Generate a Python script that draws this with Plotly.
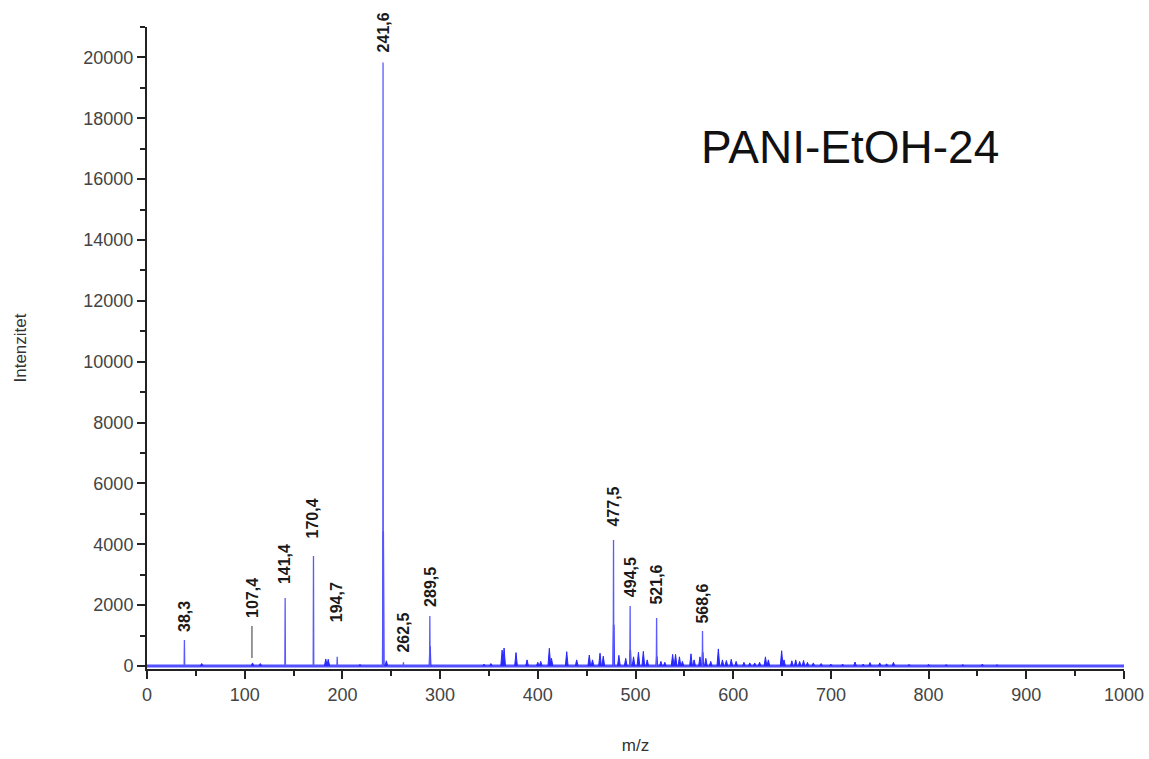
import plotly.graph_objects as go

# ---- data ----
label_mz = [38.3, 107.4, 141.4, 170.4, 194.7, 241.6, 262.5, 289.5, 477.5, 494.5, 521.6, 568.6]
label_text = ["38,3", "107,4", "141,4", "170,4", "194,7", "241,6", "262,5", "289,5",
              "477,5", "494,5", "521,6", "568,6"]
label_base = [1050, 1510, 2630, 4140, 1380, 20100, 390, 1870, 4500, 2200, 1940, 1310]

major_mz = [38.3, 141.4, 170.4, 194.7, 241.6, 262.5, 289.5, 477.5, 494.5, 521.6, 568.6]
major_int = [850, 2230, 3610, 300, 19830, 120, 1640, 4140, 1970, 1580, 1150]

inner_mz = [241.8, 289.7, 477.7, 494.7, 521.8, 568.8]
inner_int = [4430, 650, 1350, 520, 320, 450]

minor_mz = [56, 108, 116, 183, 185.5, 218, 245, 345, 352, 363.5, 365.5, 377.7, 389, 400, 403,
            411.8, 414, 429.6, 439.8, 452.7, 456, 463.7, 467, 483, 490, 498, 503, 508, 512,
            526, 530, 538, 541, 545, 548, 556.8, 560, 566, 572, 577, 584.8, 589, 593, 598,
            603, 611, 617, 622, 627, 633, 636, 649.6, 652, 660, 664, 668, 672, 676, 682,
            690, 700, 712, 724.7, 733, 740, 750, 757, 764, 780, 800, 818, 835, 855, 870]
minor_int = [80, 100, 80, 230, 220, 50, 170, 60, 80, 520, 590, 440, 200, 120, 150,
             580, 250, 470, 200, 360, 200, 420, 320, 350, 250, 300, 450, 480, 200,
             150, 120, 380, 380, 300, 150, 400, 200, 300, 250, 150, 560, 200, 180, 220,
             150, 120, 100, 100, 120, 300, 200, 500, 200, 170, 200, 150, 180, 120, 100,
             80, 60, 60, 130, 60, 110, 100, 70, 120, 50, 50, 45, 45, 60, 40]

marker_mz = [107.4, 107.4]
marker_int = [260, 1310]

x_range = [0, 1000]
y_range = [-100, 21000]


def sticks(mzs, ints, w):
    pts = sorted(zip(mzs, ints))
    xs, ys = [], []
    for m, h in pts:
        xs += [m - w, m, m + w, None]
        ys += [0, h, 0, None]
    return xs, ys


fig = go.Figure()

# baseline
fig.add_trace(go.Scatter(x=x_range, y=[0, 0], mode="lines",
                         line=dict(color="rgba(50,50,255,0.85)", width=3),
                         hoverinfo="skip", showlegend=False))

mx, my = sticks(minor_mz, minor_int, 1.4)
fig.add_trace(go.Scatter(x=mx, y=my, mode="lines", fill="toself",
                         fillcolor="rgb(40,40,255)",
                         line=dict(color="rgb(40,40,255)", width=1),
                         showlegend=False))

ix, iy = sticks(inner_mz, inner_int, 0.6)
fig.add_trace(go.Scatter(x=ix, y=iy, mode="lines",
                         line=dict(color="rgb(30,30,255)", width=1.6),
                         showlegend=False))

Mx, My = sticks(major_mz, major_int, 0.3)
fig.add_trace(go.Scatter(x=Mx, y=My, mode="lines",
                         line=dict(color="rgb(90,90,255)", width=1.3),
                         showlegend=False))

fig.add_trace(go.Scatter(x=marker_mz, y=marker_int, mode="lines",
                         line=dict(color="#777777", width=1.5),
                         showlegend=False))

for m, t, b in zip(label_mz, label_text, label_base):
    fig.add_annotation(x=m, y=b, text="<b>" + t + "</b>", showarrow=False, textangle=-90,
                       xanchor="center", yanchor="bottom",
                       font=dict(family="Liberation Sans, Arial", size=16, color="#1a1a1a"))

fig.add_annotation(x=720, y=17045, text="PANI-EtOH-24", showarrow=False,
                   xanchor="center", yanchor="middle",
                   font=dict(family="Liberation Sans, Arial", size=46, color="#111111"))

axis_common = dict(showline=True, linecolor="#222222", linewidth=2, showgrid=False,
                   zeroline=False, ticks="outside", tickcolor="#222222", tickwidth=2,
                   ticklen=8, automargin=False, tickformat="d",
                   tickfont=dict(family="Liberation Sans, Arial", size=18, color="#444444"),
                   mirror=False)

fig.update_xaxes(range=x_range, tick0=0, dtick=100,
                 minor=dict(ticks="outside", dtick=50, ticklen=5, tickcolor="#222222", tickwidth=2),
                 title=dict(text="m/z", font=dict(family="Liberation Sans, Arial", size=17, color="#333333"),
                            standoff=36),
                 **axis_common)
fig.update_yaxes(range=y_range, tick0=0, dtick=2000,
                 minor=dict(ticks="outside", dtick=1000, ticklen=5, tickcolor="#222222", tickwidth=2),
                 title=dict(text="Intenzitet", font=dict(family="Liberation Sans, Arial", size=17, color="#333333"),
                            standoff=52),
                 **axis_common)

fig.update_layout(width=1149, height=759, plot_bgcolor="white", paper_bgcolor="white",
                  margin=dict(l=147, r=25, t=27, b=90), showlegend=False)

fig.write_html("out.html", config={"displayModeBar": False},
               post_script="document.body.style.margin='0';document.body.style.overflow='hidden';")
